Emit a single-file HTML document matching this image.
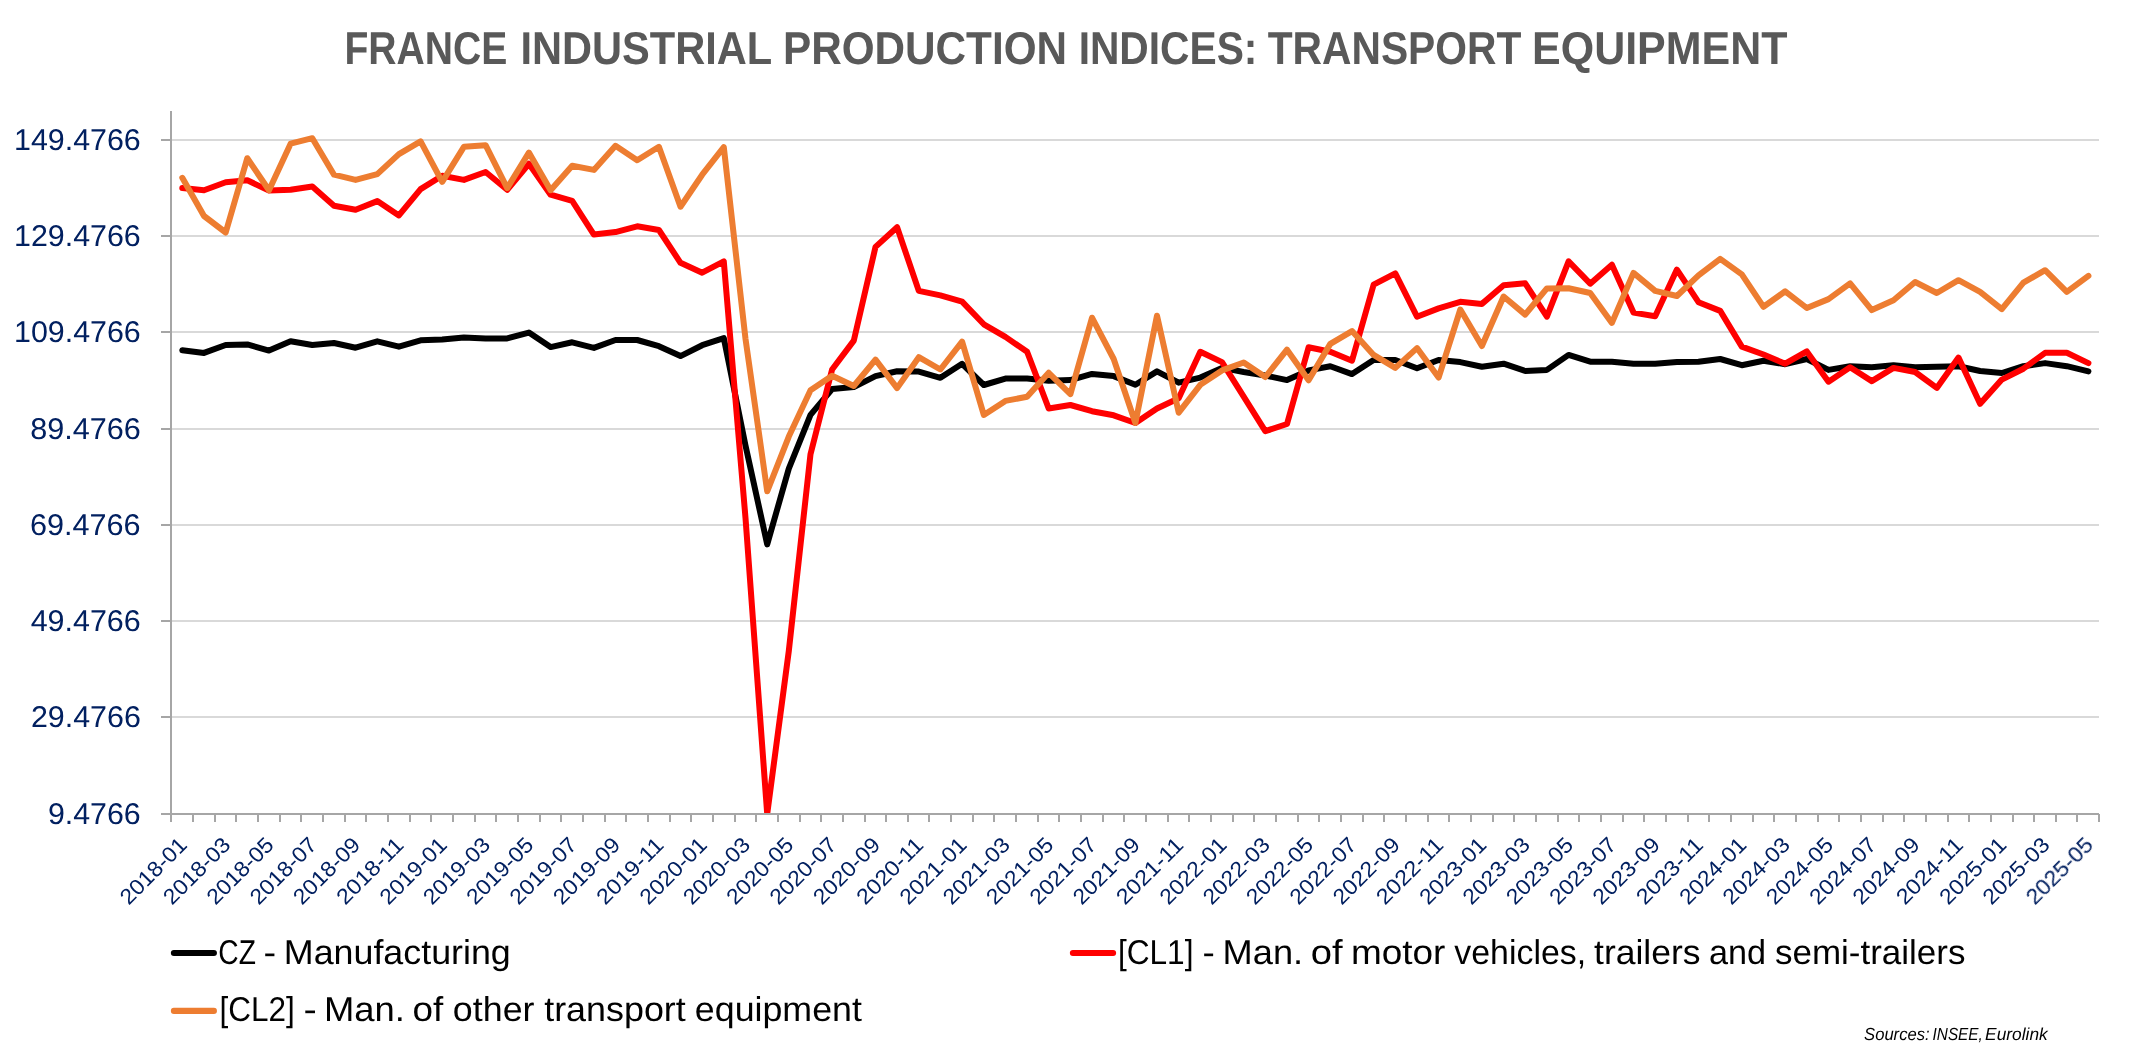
<!DOCTYPE html>
<html lang="en"><head><meta charset="utf-8"><title>France Industrial Production Indices</title>
<style>html,body{margin:0;padding:0;background:#fff;}body{width:2132px;height:1049px;overflow:hidden;font-family:"Liberation Sans",sans-serif;}svg{display:block;}text{font-family:"Liberation Sans",sans-serif;}</style></head><body>
<svg width="2132" height="1049" viewBox="0 0 2132 1049">
<rect width="2132" height="1049" fill="#fff"/>
<g stroke="#d9d9d9" stroke-width="2">
<line x1="172" x2="2099" y1="140.0" y2="140.0"/>
<line x1="172" x2="2099" y1="236.0" y2="236.0"/>
<line x1="172" x2="2099" y1="332.0" y2="332.0"/>
<line x1="172" x2="2099" y1="429.0" y2="429.0"/>
<line x1="172" x2="2099" y1="525.0" y2="525.0"/>
<line x1="172" x2="2099" y1="621.0" y2="621.0"/>
<line x1="172" x2="2099" y1="717.0" y2="717.0"/>
</g>
<clipPath id="pc"><rect x="171" y="111" width="1928" height="703"/></clipPath>
<g clip-path="url(#pc)" fill="none" stroke-width="6.0" stroke-linejoin="round" stroke-linecap="round">
<path d="M182.3,350.2 L204.0,352.9 L225.7,345.0 L247.3,344.4 L269.0,350.6 L290.6,341.3 L312.3,345.0 L334.0,343.0 L355.6,347.7 L377.3,341.3 L398.9,346.7 L420.6,340.3 L442.2,339.4 L463.9,337.4 L485.6,338.4 L507.2,338.4 L528.9,332.6 L550.6,347.1 L572.2,342.3 L593.9,347.9 L615.5,340.0 L637.2,340.0 L658.9,346.2 L680.5,356.1 L702.2,345.2 L723.8,338.2 L745.5,445.5 L767.2,544.4 L788.8,468.6 L810.5,414.9 L832.1,389.1 L853.8,387.1 L875.5,376.1 L897.1,371.2 L918.8,371.6 L940.4,377.8 L962.1,363.8 L983.8,385.0 L1005.4,378.6 L1027.1,378.6 L1048.7,380.7 L1070.4,380.1 L1092.0,373.9 L1113.7,376.1 L1135.4,384.8 L1157.0,371.4 L1178.7,382.7 L1200.3,377.6 L1222.0,367.9 L1243.7,372.0 L1265.3,375.5 L1287.0,380.1 L1308.6,370.4 L1330.3,366.2 L1352.0,374.1 L1373.6,360.0 L1395.3,360.0 L1417.0,368.3 L1438.6,360.0 L1460.3,362.1 L1481.9,366.8 L1503.6,363.7 L1525.2,371.0 L1546.9,369.9 L1568.6,354.9 L1590.2,361.7 L1611.9,361.7 L1633.5,363.7 L1655.2,363.7 L1676.9,362.1 L1698.5,361.7 L1720.2,359.0 L1741.8,365.2 L1763.5,360.7 L1785.2,364.2 L1806.8,359.0 L1828.5,369.9 L1850.1,366.2 L1871.8,367.3 L1893.5,365.2 L1915.1,367.3 L1936.8,366.8 L1958.5,366.2 L1980.1,371.0 L2001.8,373.0 L2023.4,366.2 L2045.1,363.1 L2066.8,366.2 L2088.4,371.4" stroke="#000"/>
<path d="M182.3,188.1 L204.0,190.2 L225.7,182.3 L247.3,180.3 L269.0,190.6 L290.6,189.8 L312.3,186.5 L334.0,205.7 L355.6,209.8 L377.3,201.1 L398.9,215.4 L420.6,189.1 L442.2,175.7 L463.9,179.9 L485.6,172.0 L507.2,189.8 L528.9,163.8 L550.6,194.7 L572.2,200.9 L593.9,234.6 L615.5,232.1 L637.2,226.3 L658.9,230.0 L680.5,262.8 L702.2,272.7 L723.8,261.4 L745.5,518.0 L767.2,814.0 L788.8,651.0 L810.5,454.2 L832.1,369.5 L853.8,340.6 L875.5,246.9 L897.1,227.3 L918.8,290.9 L940.4,295.4 L962.1,301.6 L983.8,324.3 L1005.4,336.9 L1027.1,351.8 L1048.7,408.5 L1070.4,405.0 L1092.0,411.2 L1113.7,415.3 L1135.4,423.0 L1157.0,408.5 L1178.7,398.2 L1200.3,351.8 L1222.0,362.1 L1243.7,396.6 L1265.3,431.2 L1287.0,424.0 L1308.6,347.2 L1330.3,351.8 L1352.0,360.7 L1373.6,284.7 L1395.3,273.3 L1417.0,316.7 L1438.6,308.4 L1460.3,301.8 L1481.9,303.9 L1503.6,285.3 L1525.2,283.3 L1546.9,316.7 L1568.6,261.4 L1590.2,283.7 L1611.9,264.7 L1633.5,312.6 L1655.2,316.3 L1676.9,269.6 L1698.5,302.2 L1720.2,310.9 L1741.8,346.6 L1763.5,354.5 L1785.2,363.7 L1806.8,351.4 L1828.5,381.7 L1850.1,367.3 L1871.8,381.1 L1893.5,367.9 L1915.1,372.0 L1936.8,387.9 L1958.5,357.6 L1980.1,403.8 L2001.8,379.6 L2023.4,368.7 L2045.1,352.8 L2066.8,352.8 L2088.4,363.1" stroke="#ff0000"/>
<path d="M182.3,177.8 L204.0,216.0 L225.7,232.5 L247.3,158.2 L269.0,190.2 L290.6,143.7 L312.3,138.2 L334.0,174.7 L355.6,179.9 L377.3,174.1 L398.9,154.1 L420.6,141.3 L442.2,181.9 L463.9,146.8 L485.6,145.2 L507.2,188.1 L528.9,152.6 L550.6,190.2 L572.2,165.8 L593.9,169.9 L615.5,145.8 L637.2,160.2 L658.9,146.8 L680.5,206.7 L702.2,174.7 L723.8,147.2 L745.5,338.8 L767.2,491.3 L788.8,436.6 L810.5,390.2 L832.1,375.7 L853.8,386.0 L875.5,359.6 L897.1,388.1 L918.8,357.2 L940.4,369.5 L962.1,341.7 L983.8,414.9 L1005.4,400.9 L1027.1,396.8 L1048.7,372.8 L1070.4,394.1 L1092.0,317.7 L1113.7,359.0 L1135.4,423.0 L1157.0,315.7 L1178.7,412.7 L1200.3,384.8 L1222.0,370.4 L1243.7,362.5 L1265.3,377.0 L1287.0,349.7 L1308.6,380.3 L1330.3,343.9 L1352.0,331.1 L1373.6,354.9 L1395.3,367.9 L1417.0,348.1 L1438.6,377.6 L1460.3,309.5 L1481.9,346.0 L1503.6,296.5 L1525.2,314.6 L1546.9,288.4 L1568.6,288.2 L1590.2,293.0 L1611.9,322.9 L1633.5,272.9 L1655.2,290.9 L1676.9,296.0 L1698.5,275.4 L1720.2,258.9 L1741.8,274.4 L1763.5,306.8 L1785.2,291.3 L1806.8,308.0 L1828.5,299.1 L1850.1,283.3 L1871.8,310.1 L1893.5,300.2 L1915.1,282.0 L1936.8,293.0 L1958.5,280.2 L1980.1,291.9 L2001.8,309.1 L2023.4,282.6 L2045.1,270.2 L2066.8,291.9 L2088.4,275.8" stroke="#ed7d31"/>
</g>
<g stroke="#a6a6a6" stroke-width="2">
<line x1="171" x2="171" y1="111" y2="815"/>
<line x1="161" x2="2099" y1="814" y2="814"/>
<line x1="161" x2="171" y1="140.0" y2="140.0"/>
<line x1="161" x2="171" y1="236.0" y2="236.0"/>
<line x1="161" x2="171" y1="332.0" y2="332.0"/>
<line x1="161" x2="171" y1="429.0" y2="429.0"/>
<line x1="161" x2="171" y1="525.0" y2="525.0"/>
<line x1="161" x2="171" y1="621.0" y2="621.0"/>
<line x1="161" x2="171" y1="717.0" y2="717.0"/>
<line x1="171.0" x2="171.0" y1="814" y2="822"/>
<line x1="193.0" x2="193.0" y1="814" y2="822"/>
<line x1="215.0" x2="215.0" y1="814" y2="822"/>
<line x1="236.0" x2="236.0" y1="814" y2="822"/>
<line x1="258.0" x2="258.0" y1="814" y2="822"/>
<line x1="280.0" x2="280.0" y1="814" y2="822"/>
<line x1="301.0" x2="301.0" y1="814" y2="822"/>
<line x1="323.0" x2="323.0" y1="814" y2="822"/>
<line x1="345.0" x2="345.0" y1="814" y2="822"/>
<line x1="366.0" x2="366.0" y1="814" y2="822"/>
<line x1="388.0" x2="388.0" y1="814" y2="822"/>
<line x1="410.0" x2="410.0" y1="814" y2="822"/>
<line x1="431.0" x2="431.0" y1="814" y2="822"/>
<line x1="453.0" x2="453.0" y1="814" y2="822"/>
<line x1="475.0" x2="475.0" y1="814" y2="822"/>
<line x1="496.0" x2="496.0" y1="814" y2="822"/>
<line x1="518.0" x2="518.0" y1="814" y2="822"/>
<line x1="540.0" x2="540.0" y1="814" y2="822"/>
<line x1="561.0" x2="561.0" y1="814" y2="822"/>
<line x1="583.0" x2="583.0" y1="814" y2="822"/>
<line x1="605.0" x2="605.0" y1="814" y2="822"/>
<line x1="626.0" x2="626.0" y1="814" y2="822"/>
<line x1="648.0" x2="648.0" y1="814" y2="822"/>
<line x1="670.0" x2="670.0" y1="814" y2="822"/>
<line x1="691.0" x2="691.0" y1="814" y2="822"/>
<line x1="713.0" x2="713.0" y1="814" y2="822"/>
<line x1="735.0" x2="735.0" y1="814" y2="822"/>
<line x1="756.0" x2="756.0" y1="814" y2="822"/>
<line x1="778.0" x2="778.0" y1="814" y2="822"/>
<line x1="800.0" x2="800.0" y1="814" y2="822"/>
<line x1="821.0" x2="821.0" y1="814" y2="822"/>
<line x1="843.0" x2="843.0" y1="814" y2="822"/>
<line x1="865.0" x2="865.0" y1="814" y2="822"/>
<line x1="886.0" x2="886.0" y1="814" y2="822"/>
<line x1="908.0" x2="908.0" y1="814" y2="822"/>
<line x1="929.0" x2="929.0" y1="814" y2="822"/>
<line x1="951.0" x2="951.0" y1="814" y2="822"/>
<line x1="973.0" x2="973.0" y1="814" y2="822"/>
<line x1="994.0" x2="994.0" y1="814" y2="822"/>
<line x1="1016.0" x2="1016.0" y1="814" y2="822"/>
<line x1="1038.0" x2="1038.0" y1="814" y2="822"/>
<line x1="1059.0" x2="1059.0" y1="814" y2="822"/>
<line x1="1081.0" x2="1081.0" y1="814" y2="822"/>
<line x1="1103.0" x2="1103.0" y1="814" y2="822"/>
<line x1="1124.0" x2="1124.0" y1="814" y2="822"/>
<line x1="1146.0" x2="1146.0" y1="814" y2="822"/>
<line x1="1168.0" x2="1168.0" y1="814" y2="822"/>
<line x1="1189.0" x2="1189.0" y1="814" y2="822"/>
<line x1="1211.0" x2="1211.0" y1="814" y2="822"/>
<line x1="1233.0" x2="1233.0" y1="814" y2="822"/>
<line x1="1254.0" x2="1254.0" y1="814" y2="822"/>
<line x1="1276.0" x2="1276.0" y1="814" y2="822"/>
<line x1="1298.0" x2="1298.0" y1="814" y2="822"/>
<line x1="1319.0" x2="1319.0" y1="814" y2="822"/>
<line x1="1341.0" x2="1341.0" y1="814" y2="822"/>
<line x1="1363.0" x2="1363.0" y1="814" y2="822"/>
<line x1="1384.0" x2="1384.0" y1="814" y2="822"/>
<line x1="1406.0" x2="1406.0" y1="814" y2="822"/>
<line x1="1428.0" x2="1428.0" y1="814" y2="822"/>
<line x1="1449.0" x2="1449.0" y1="814" y2="822"/>
<line x1="1471.0" x2="1471.0" y1="814" y2="822"/>
<line x1="1493.0" x2="1493.0" y1="814" y2="822"/>
<line x1="1514.0" x2="1514.0" y1="814" y2="822"/>
<line x1="1536.0" x2="1536.0" y1="814" y2="822"/>
<line x1="1558.0" x2="1558.0" y1="814" y2="822"/>
<line x1="1579.0" x2="1579.0" y1="814" y2="822"/>
<line x1="1601.0" x2="1601.0" y1="814" y2="822"/>
<line x1="1623.0" x2="1623.0" y1="814" y2="822"/>
<line x1="1644.0" x2="1644.0" y1="814" y2="822"/>
<line x1="1666.0" x2="1666.0" y1="814" y2="822"/>
<line x1="1688.0" x2="1688.0" y1="814" y2="822"/>
<line x1="1709.0" x2="1709.0" y1="814" y2="822"/>
<line x1="1731.0" x2="1731.0" y1="814" y2="822"/>
<line x1="1753.0" x2="1753.0" y1="814" y2="822"/>
<line x1="1774.0" x2="1774.0" y1="814" y2="822"/>
<line x1="1796.0" x2="1796.0" y1="814" y2="822"/>
<line x1="1818.0" x2="1818.0" y1="814" y2="822"/>
<line x1="1839.0" x2="1839.0" y1="814" y2="822"/>
<line x1="1861.0" x2="1861.0" y1="814" y2="822"/>
<line x1="1883.0" x2="1883.0" y1="814" y2="822"/>
<line x1="1904.0" x2="1904.0" y1="814" y2="822"/>
<line x1="1926.0" x2="1926.0" y1="814" y2="822"/>
<line x1="1948.0" x2="1948.0" y1="814" y2="822"/>
<line x1="1969.0" x2="1969.0" y1="814" y2="822"/>
<line x1="1991.0" x2="1991.0" y1="814" y2="822"/>
<line x1="2013.0" x2="2013.0" y1="814" y2="822"/>
<line x1="2034.0" x2="2034.0" y1="814" y2="822"/>
<line x1="2056.0" x2="2056.0" y1="814" y2="822"/>
<line x1="2077.0" x2="2077.0" y1="814" y2="822"/>
<line x1="2099.0" x2="2099.0" y1="814" y2="822"/>
</g>
<g opacity="0.999" style="text-rendering:geometricPrecision">
<text x="344.40" y="63.90" font-size="46" fill="#595959" textLength="162.92" lengthAdjust="spacingAndGlyphs" font-weight="bold">FRANCE</text>
<text x="520.46" y="63.90" font-size="46" fill="#595959" textLength="251.76" lengthAdjust="spacingAndGlyphs" font-weight="bold">INDUSTRIAL</text>
<text x="783.03" y="63.90" font-size="46" fill="#595959" textLength="284.04" lengthAdjust="spacingAndGlyphs" font-weight="bold">PRODUCTION</text>
<text x="1078.63" y="63.90" font-size="46" fill="#595959" textLength="178.78" lengthAdjust="spacingAndGlyphs" font-weight="bold">INDICES:</text>
<text x="1267.73" y="63.90" font-size="46" fill="#595959" textLength="253.58" lengthAdjust="spacingAndGlyphs" font-weight="bold">TRANSPORT</text>
<text x="1532.09" y="63.90" font-size="46" fill="#595959" textLength="255.32" lengthAdjust="spacingAndGlyphs" font-weight="bold">EQUIPMENT</text>
<text x="14.09" y="149.70" font-size="30" fill="#002060" textLength="126.67" lengthAdjust="spacingAndGlyphs">149.4766</text>
<text x="14.09" y="245.70" font-size="30" fill="#002060" textLength="126.67" lengthAdjust="spacingAndGlyphs">129.4766</text>
<text x="14.09" y="341.70" font-size="30" fill="#002060" textLength="126.67" lengthAdjust="spacingAndGlyphs">109.4766</text>
<text x="30.19" y="438.70" font-size="30" fill="#002060" textLength="110.61" lengthAdjust="spacingAndGlyphs">89.4766</text>
<text x="30.05" y="534.70" font-size="30" fill="#002060" textLength="110.56" lengthAdjust="spacingAndGlyphs">69.4766</text>
<text x="30.69" y="630.70" font-size="30" fill="#002060" textLength="110.02" lengthAdjust="spacingAndGlyphs">49.4766</text>
<text x="30.95" y="726.70" font-size="30" fill="#002060" textLength="109.85" lengthAdjust="spacingAndGlyphs">29.4766</text>
<text x="47.92" y="823.70" font-size="30" fill="#002060" textLength="92.72" lengthAdjust="spacingAndGlyphs">9.4766</text>
<text x="218.37" y="963.65" font-size="34.4" fill="#000" textLength="37.55" lengthAdjust="spacingAndGlyphs">CZ</text>
<text x="263.42" y="963.65" font-size="34.4" fill="#000" textLength="12.62" lengthAdjust="spacingAndGlyphs">-</text>
<text x="283.82" y="963.65" font-size="34.4" fill="#000" textLength="226.99" lengthAdjust="spacingAndGlyphs">Manufacturing</text>
<text x="1117.88" y="963.65" font-size="34.4" fill="#000" textLength="75.59" lengthAdjust="spacingAndGlyphs">[CL1]</text>
<text x="1202.43" y="963.65" font-size="34.4" fill="#000" textLength="12.29" lengthAdjust="spacingAndGlyphs">-</text>
<text x="1222.59" y="963.65" font-size="34.4" fill="#000" textLength="80.52" lengthAdjust="spacingAndGlyphs">Man.</text>
<text x="1310.89" y="963.65" font-size="34.4" fill="#000" textLength="31.85" lengthAdjust="spacingAndGlyphs">of</text>
<text x="1350.94" y="963.65" font-size="34.4" fill="#000" textLength="94.45" lengthAdjust="spacingAndGlyphs">motor</text>
<text x="1454.37" y="963.65" font-size="34.4" fill="#000" textLength="131.76" lengthAdjust="spacingAndGlyphs">vehicles,</text>
<text x="1594.05" y="963.65" font-size="34.4" fill="#000" textLength="106.54" lengthAdjust="spacingAndGlyphs">trailers</text>
<text x="1709.01" y="963.65" font-size="34.4" fill="#000" textLength="57.10" lengthAdjust="spacingAndGlyphs">and</text>
<text x="1774.95" y="963.65" font-size="34.4" fill="#000" textLength="190.55" lengthAdjust="spacingAndGlyphs">semi-trailers</text>
<text x="219.44" y="1021.30" font-size="34.4" fill="#000" textLength="75.19" lengthAdjust="spacingAndGlyphs">[CL2]</text>
<text x="303.52" y="1021.30" font-size="34.4" fill="#000" textLength="13.29" lengthAdjust="spacingAndGlyphs">-</text>
<text x="323.91" y="1021.30" font-size="34.4" fill="#000" textLength="80.93" lengthAdjust="spacingAndGlyphs">Man.</text>
<text x="412.49" y="1021.30" font-size="34.4" fill="#000" textLength="30.74" lengthAdjust="spacingAndGlyphs">of</text>
<text x="452.86" y="1021.30" font-size="34.4" fill="#000" textLength="81.63" lengthAdjust="spacingAndGlyphs">other</text>
<text x="544.21" y="1021.30" font-size="34.4" fill="#000" textLength="141.58" lengthAdjust="spacingAndGlyphs">transport</text>
<text x="694.86" y="1021.30" font-size="34.4" fill="#000" textLength="167.03" lengthAdjust="spacingAndGlyphs">equipment</text>
<text x="1864.08" y="1039.90" font-size="17.4" fill="#000" textLength="65.53" lengthAdjust="spacingAndGlyphs" font-style="italic">Sources:</text>
<text x="1932.58" y="1039.90" font-size="17.4" fill="#000" textLength="50.18" lengthAdjust="spacingAndGlyphs" font-style="italic">INSEE,</text>
<text x="1985.12" y="1039.90" font-size="17.4" fill="#000" textLength="62.61" lengthAdjust="spacingAndGlyphs" font-style="italic">Eurolink</text>
<g font-size="21.7" fill="#002060" text-anchor="end">
<text transform="translate(188.3,846.2) rotate(-45)" textLength="84.3" lengthAdjust="spacingAndGlyphs">2018-01</text>
<text transform="translate(231.7,846.2) rotate(-45)" textLength="84.3" lengthAdjust="spacingAndGlyphs">2018-03</text>
<text transform="translate(275.0,846.2) rotate(-45)" textLength="84.3" lengthAdjust="spacingAndGlyphs">2018-05</text>
<text transform="translate(318.3,846.2) rotate(-45)" textLength="84.3" lengthAdjust="spacingAndGlyphs">2018-07</text>
<text transform="translate(361.6,846.2) rotate(-45)" textLength="84.3" lengthAdjust="spacingAndGlyphs">2018-09</text>
<text transform="translate(404.9,846.2) rotate(-45)" textLength="84.3" lengthAdjust="spacingAndGlyphs">2018-11</text>
<text transform="translate(448.2,846.2) rotate(-45)" textLength="84.3" lengthAdjust="spacingAndGlyphs">2019-01</text>
<text transform="translate(491.6,846.2) rotate(-45)" textLength="84.3" lengthAdjust="spacingAndGlyphs">2019-03</text>
<text transform="translate(534.9,846.2) rotate(-45)" textLength="84.3" lengthAdjust="spacingAndGlyphs">2019-05</text>
<text transform="translate(578.2,846.2) rotate(-45)" textLength="84.3" lengthAdjust="spacingAndGlyphs">2019-07</text>
<text transform="translate(621.5,846.2) rotate(-45)" textLength="84.3" lengthAdjust="spacingAndGlyphs">2019-09</text>
<text transform="translate(664.9,846.2) rotate(-45)" textLength="84.3" lengthAdjust="spacingAndGlyphs">2019-11</text>
<text transform="translate(708.2,846.2) rotate(-45)" textLength="84.3" lengthAdjust="spacingAndGlyphs">2020-01</text>
<text transform="translate(751.5,846.2) rotate(-45)" textLength="84.3" lengthAdjust="spacingAndGlyphs">2020-03</text>
<text transform="translate(794.8,846.2) rotate(-45)" textLength="84.3" lengthAdjust="spacingAndGlyphs">2020-05</text>
<text transform="translate(838.1,846.2) rotate(-45)" textLength="84.3" lengthAdjust="spacingAndGlyphs">2020-07</text>
<text transform="translate(881.5,846.2) rotate(-45)" textLength="84.3" lengthAdjust="spacingAndGlyphs">2020-09</text>
<text transform="translate(924.8,846.2) rotate(-45)" textLength="84.3" lengthAdjust="spacingAndGlyphs">2020-11</text>
<text transform="translate(968.1,846.2) rotate(-45)" textLength="84.3" lengthAdjust="spacingAndGlyphs">2021-01</text>
<text transform="translate(1011.4,846.2) rotate(-45)" textLength="84.3" lengthAdjust="spacingAndGlyphs">2021-03</text>
<text transform="translate(1054.7,846.2) rotate(-45)" textLength="84.3" lengthAdjust="spacingAndGlyphs">2021-05</text>
<text transform="translate(1098.0,846.2) rotate(-45)" textLength="84.3" lengthAdjust="spacingAndGlyphs">2021-07</text>
<text transform="translate(1141.4,846.2) rotate(-45)" textLength="84.3" lengthAdjust="spacingAndGlyphs">2021-09</text>
<text transform="translate(1184.7,846.2) rotate(-45)" textLength="84.3" lengthAdjust="spacingAndGlyphs">2021-11</text>
<text transform="translate(1228.0,846.2) rotate(-45)" textLength="84.3" lengthAdjust="spacingAndGlyphs">2022-01</text>
<text transform="translate(1271.3,846.2) rotate(-45)" textLength="84.3" lengthAdjust="spacingAndGlyphs">2022-03</text>
<text transform="translate(1314.6,846.2) rotate(-45)" textLength="84.3" lengthAdjust="spacingAndGlyphs">2022-05</text>
<text transform="translate(1358.0,846.2) rotate(-45)" textLength="84.3" lengthAdjust="spacingAndGlyphs">2022-07</text>
<text transform="translate(1401.3,846.2) rotate(-45)" textLength="84.3" lengthAdjust="spacingAndGlyphs">2022-09</text>
<text transform="translate(1444.6,846.2) rotate(-45)" textLength="84.3" lengthAdjust="spacingAndGlyphs">2022-11</text>
<text transform="translate(1487.9,846.2) rotate(-45)" textLength="84.3" lengthAdjust="spacingAndGlyphs">2023-01</text>
<text transform="translate(1531.2,846.2) rotate(-45)" textLength="84.3" lengthAdjust="spacingAndGlyphs">2023-03</text>
<text transform="translate(1574.6,846.2) rotate(-45)" textLength="84.3" lengthAdjust="spacingAndGlyphs">2023-05</text>
<text transform="translate(1617.9,846.2) rotate(-45)" textLength="84.3" lengthAdjust="spacingAndGlyphs">2023-07</text>
<text transform="translate(1661.2,846.2) rotate(-45)" textLength="84.3" lengthAdjust="spacingAndGlyphs">2023-09</text>
<text transform="translate(1704.5,846.2) rotate(-45)" textLength="84.3" lengthAdjust="spacingAndGlyphs">2023-11</text>
<text transform="translate(1747.8,846.2) rotate(-45)" textLength="84.3" lengthAdjust="spacingAndGlyphs">2024-01</text>
<text transform="translate(1791.2,846.2) rotate(-45)" textLength="84.3" lengthAdjust="spacingAndGlyphs">2024-03</text>
<text transform="translate(1834.5,846.2) rotate(-45)" textLength="84.3" lengthAdjust="spacingAndGlyphs">2024-05</text>
<text transform="translate(1877.8,846.2) rotate(-45)" textLength="84.3" lengthAdjust="spacingAndGlyphs">2024-07</text>
<text transform="translate(1921.1,846.2) rotate(-45)" textLength="84.3" lengthAdjust="spacingAndGlyphs">2024-09</text>
<text transform="translate(1964.5,846.2) rotate(-45)" textLength="84.3" lengthAdjust="spacingAndGlyphs">2024-11</text>
<text transform="translate(2007.8,846.2) rotate(-45)" textLength="84.3" lengthAdjust="spacingAndGlyphs">2025-01</text>
<text transform="translate(2051.1,846.2) rotate(-45)" textLength="84.3" lengthAdjust="spacingAndGlyphs">2025-03</text>
<text transform="translate(2094.4,846.2) rotate(-45)" textLength="84.3" lengthAdjust="spacingAndGlyphs">2025-05</text>
</g>
</g>
<g stroke-width="6.1" stroke-linecap="round">
<line x1="173.9" x2="213.9" y1="953" y2="953" stroke="#000"/>
<line x1="1072.9" x2="1113.1" y1="953" y2="953" stroke="#ff0000"/>
<line x1="173.9" x2="213.9" y1="1010.9" y2="1010.9" stroke="#ed7d31"/>
</g>
</svg></body></html>
